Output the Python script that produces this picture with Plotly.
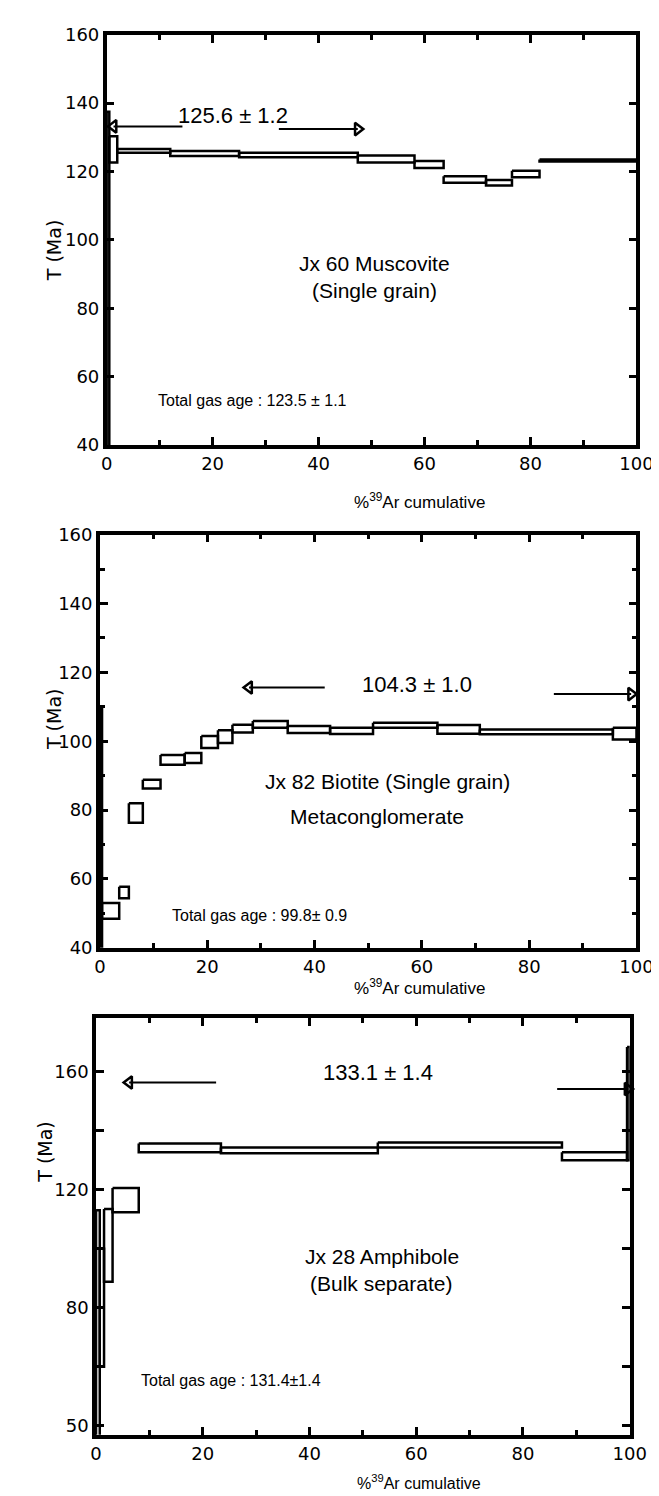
import plotly.graph_objects as go

# ---------------- data ----------------
# Panel 1 : Jx 60 Muscovite
p1_edges = [0, 0.5, 2.0, 12.0, 25.0, 47.4, 58.1, 63.6, 71.6, 76.5, 81.7, 100]
p1_lo = [30, 122.6, 125.5, 124.5, 124.2, 122.6, 121.0, 116.7, 115.9, 118.3, 122.9]
p1_hi = [137.5, 130.3, 126.6, 126.0, 125.5, 124.7, 123.1, 118.6, 117.5, 120.2, 123.5]

# Panel 2 : Jx 82 Biotite
p2_edges = [0, 0.4, 3.6, 5.4, 8.0, 11.3, 15.8, 18.9, 22.0, 24.7, 28.5, 35.0, 42.9, 50.9, 62.9, 70.8, 95.6, 100]
p2_lo = [30, 48.4, 54.4, 76.3, 86.3, 93.2, 93.7, 98.0, 99.5, 102.5, 103.9, 102.4, 102.1, 103.9, 102.2, 102.0, 100.5]
p2_hi = [110, 53.0, 57.7, 82.0, 88.8, 96.0, 96.6, 101.5, 103.2, 104.8, 105.9, 104.4, 103.9, 105.4, 104.7, 103.4, 103.9]

# Panel 3 : Jx 28 Amphibole
p3_edges = [0, 0.7, 1.5, 3.1, 8.0, 23.4, 52.8, 87.3, 99.5, 100]
p3_lo = [30, 60, 88.8, 112.3, 132.6, 132.3, 134.2, 129.9, 129.9]
p3_hi = [113, 100, 113.4, 120.5, 135.6, 134.2, 135.9, 132.6, 168.2]

plateau_text = ["125.6 ± 1.2", "104.3 ± 1.0", "133.1 ± 1.4"]
sample_text = [["Jx 60 Muscovite", "(Single grain)"],
               ["Jx 82 Biotite (Single grain)", "Metaconglomerate"],
               ["Jx 28 Amphibole", "(Bulk separate)"]]
total_gas_text = ["Total gas age : 123.5 ± 1.1", "Total gas age : 99.8± 0.9",
                  "Total gas age : 131.4±1.4"]
x_ticks = [0, 20, 40, 60, 80, 100]
y_ticks_12 = [40, 60, 80, 100, 120, 140, 160]
y_ticks_3 = [40, 80, 120, 160]
y_ticktext_3 = ["50", "80", "120", "160"]
y_minor_3 = [60, 100, 140]


def boxes(edges, lo, hi):
    xs, ys = [], []
    for i in range(len(lo)):
        x0, x1 = edges[i], edges[i + 1]
        xs += [x0, x1, x1, x0, x0, None]
        ys += [hi[i], hi[i], lo[i], lo[i], hi[i], None]
    return xs, ys


fig = go.Figure()

panels = [(p1_edges, p1_lo, p1_hi, "x", "y"),
          (p2_edges, p2_lo, p2_hi, "x2", "y2"),
          (p3_edges, p3_lo, p3_hi, "x3", "y3")]
for edges, lo, hi, xa, ya in panels:
    xs, ys = boxes(edges, lo, hi)
    fig.add_trace(go.Scatter(x=xs, y=ys, mode="lines", xaxis=xa, yaxis=ya,
                             line=dict(color="black", width=2.5),
                             hoverinfo="skip"))

# plateau arrows: (tail_x, head_x, y)
arrows = [
    ("x", "y", [(14.3, 1.3, 133.2), (32.5, 47.4, 132.4)]),
    ("x2", "y2", [(41.9, 27.8, 115.6), (84.6, 99.0, 113.7)]),
    ("x3", "y3", [(22.5, 6.2, 156.2), (86.4, 99.6, 154.0)]),
]
for xa, ya, arrs in arrows:
    for tx, hx, yy in arrs:
        fig.add_trace(go.Scatter(x=[tx, hx], y=[yy, yy], mode="lines",
                                 xaxis=xa, yaxis=ya,
                                 line=dict(color="black", width=2),
                                 hoverinfo="skip"))
        sym = "triangle-left-open" if hx < tx else "triangle-right-open"
        fig.add_trace(go.Scatter(x=[hx], y=[yy], mode="markers",
                                 xaxis=xa, yaxis=ya,
                                 marker=dict(symbol=sym, size=11, color="black",
                                             line=dict(width=2.5, color="black")),
                                 hoverinfo="skip", cliponaxis=False))

axis_common = dict(showline=True, linecolor="black", linewidth=3.5,
                   mirror="ticks", ticks="inside", ticklen=8, tickwidth=2.5,
                   tickcolor="black", showgrid=False, zeroline=False,
                   tickfont=dict(family="DejaVu Sans", size=18, color="black"))
minor10 = dict(ticks="inside", ticklen=5, tickwidth=2.5, tickcolor="black",
               showgrid=False, dtick=10)

H = 1496.0
W = 659.0


def ydom(top_px, bot_px):
    return [1 - bot_px / H, 1 - top_px / H]


layout = dict(width=659, height=1496, margin=dict(l=0, r=0, t=0, b=0),
              paper_bgcolor="white", plot_bgcolor="white", showlegend=False)

layout["xaxis"] = dict(axis_common, domain=[96 / W, 645 / W], range=[0, 100],
                       tickvals=x_ticks, minor=minor10, anchor="y")
layout["yaxis"] = dict(axis_common, domain=ydom(16, 432), range=[40, 160],
                       tickvals=y_ticks_12, anchor="x")
layout["xaxis2"] = dict(axis_common, domain=[89 / W, 645 / W], range=[0, 100],
                        tickvals=x_ticks, minor=minor10, anchor="y2")
layout["yaxis2"] = dict(axis_common, domain=ydom(523, 942), range=[40, 160],
                        tickvals=y_ticks_12, minor=minor10, anchor="x2")
layout["xaxis3"] = dict(axis_common, domain=[85 / W, 638 / W], range=[0, 100],
                        tickvals=x_ticks, minor=minor10, anchor="y3")
layout["yaxis3"] = dict(axis_common, domain=ydom(1013, 1436), range=[37, 178.1],
                        tickvals=y_ticks_3, ticktext=y_ticktext_3,
                        minor=dict(ticks="inside", ticklen=8, tickwidth=2.5,
                                   tickcolor="black", showgrid=False,
                                   tickvals=y_minor_3),
                        anchor="x3")
fig.update_layout(**layout)

ann = []
big = dict(family="Liberation Sans", size=22, color="black")
lab = dict(family="Liberation Sans", size=21, color="black")
small = dict(family="Liberation Sans Narrow, Liberation Sans", size=16, color="black")
title_font = dict(family="Liberation Sans", size=17, color="black")

# plateau ages
for (xa, ya), (px, py), t in zip([("x", "y"), ("x2", "y2"), ("x3", "y3")],
                                 [(23.8, 136.5), (59.1, 116.6), (52.9, 159.5)],
                                 plateau_text):
    ann.append(dict(xref=xa, yref=ya, x=px, y=py, text=t, showarrow=False,
                    font=big))

# sample names
for (xa, ya), pos, lines in zip([("x", "y"), ("x2", "y2"), ("x3", "y3")],
                                [[(50.5, 93.0), (50.5, 85.3)],
                                 [(53.6, 88.3), (51.7, 78.1)],
                                 [(53.5, 97.5), (53.4, 88.2)]],
                                sample_text):
    for (px, py), t in zip(pos, lines):
        ann.append(dict(xref=xa, yref=ya, x=px, y=py, text=t, showarrow=False,
                        font=lab))

# total gas ages
for (xa, ya), (px, py), t in zip([("x", "y"), ("x2", "y2"), ("x3", "y3")],
                                 [(9.3, 53.0), (13.1, 49.3), (8.0, 55.3)],
                                 total_gas_text):
    ann.append(dict(xref=xa, yref=ya, x=px, y=py, text=t, showarrow=False,
                    xanchor="left", font=small))

# axis titles
for px_y in [476, 982]:
    ann.append(dict(xref="paper", yref="paper", x=420 / W, y=1 - px_y / H,
                    text="%<sup>39</sup>Ar cumulative", showarrow=False,
                    font=title_font))
ann.append(dict(xref="paper", yref="paper", x=420 / W, y=0, yanchor="bottom",
                text="%<sup>39</sup>Ar cumulative", showarrow=False,
                font=dict(family="Liberation Sans", size=16, color="black")))
for px_x, px_y in [(28, 201), (28, 710), (19, 1182)]:
    ann.append(dict(xref="paper", yref="paper", x=px_x / W, y=1 - px_y / H,
                    text="T (Ma)", textangle=-90, showarrow=False,
                    font=dict(family="DejaVu Sans", size=19, color="black")))

fig.update_layout(annotations=ann)
fig.write_html("out.html")
